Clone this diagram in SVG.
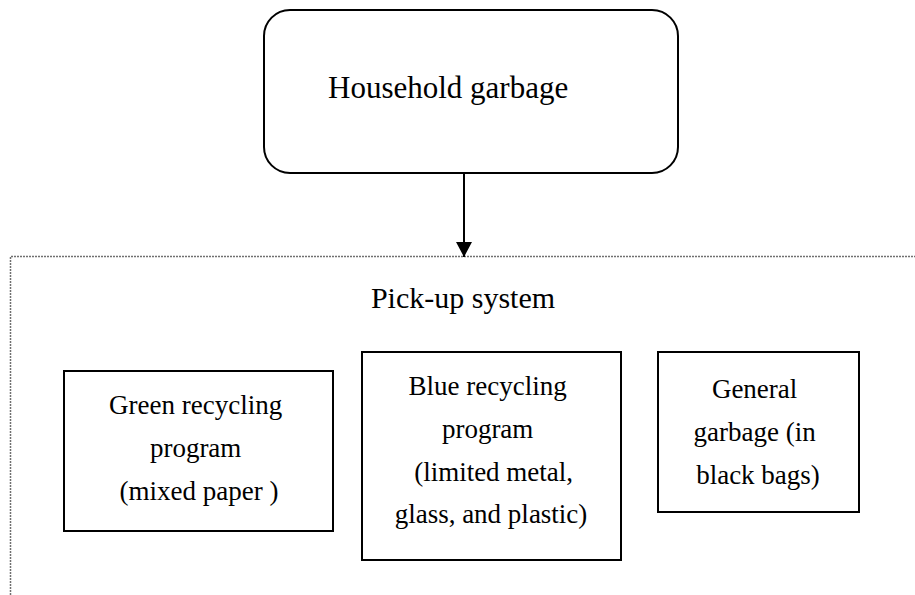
<svg xmlns="http://www.w3.org/2000/svg" width="915" height="595" viewBox="0 0 915 595">
  <style>
    .lbl { font-family: "Liberation Serif", "Times New Roman", serif; fill: #000; }
    .box { fill: #fff; stroke: #000; stroke-width: 2; }
    .area { fill: none; stroke: #707070; stroke-width: 1.5; stroke-dasharray: 2 1; }
    .conn { stroke: #000; stroke-width: 2; fill: none; }
  </style>
  <defs>
    <marker id="arrow" markerUnits="userSpaceOnUse" markerWidth="16" markerHeight="16" refX="15" refY="8" orient="auto">
      <path d="M0,0 L15,8 L0,16 Z" fill="#000"/>
    </marker>
  </defs>
  <rect width="915" height="595" fill="#fff"/>

  <!-- pick-up system area (open to the right and bottom) -->
  <g id="pickup-system">
    <path class="area" d="M10.5,595 V256.5 H915"/>
    <text class="lbl" x="463" y="308" font-size="30" text-anchor="middle">Pick-up system</text>
  </g>

  <g id="household-garbage">
    <rect class="box" x="264" y="10" width="414" height="163" rx="26" ry="26"/>
    <text class="lbl" x="328" y="98" font-size="31">Household garbage</text>
  </g>

  <g id="green-recycling">
    <rect class="box" x="64" y="371" width="269" height="160"/>
    <text class="lbl" font-size="27" text-anchor="middle">
      <tspan x="199" y="414">Green recycling</tspan>
      <tspan x="199" y="457">program</tspan>
      <tspan x="199" y="500">(mixed paper )</tspan>
    </text>
  </g>

  <g id="blue-recycling">
    <rect class="box" x="362" y="352" width="259" height="208"/>
    <text class="lbl" font-size="27" text-anchor="middle">
      <tspan x="491" y="395">Blue recycling</tspan>
      <tspan x="491" y="438">program</tspan>
      <tspan x="497" y="481">(limited metal,</tspan>
      <tspan x="491" y="523">glass, and plastic)</tspan>
    </text>
  </g>

  <g id="general-garbage">
    <rect class="box" x="658" y="352" width="201" height="160"/>
    <text class="lbl" font-size="27" text-anchor="middle">
      <tspan x="758" y="398">General</tspan>
      <tspan x="758" y="441">garbage (in</tspan>
      <tspan x="758" y="484">black bags)</tspan>
    </text>
  </g>

  <g id="connectors">
    <line class="conn" x1="464" y1="173" x2="464" y2="257" marker-end="url(#arrow)"/>
  </g>
</svg>
